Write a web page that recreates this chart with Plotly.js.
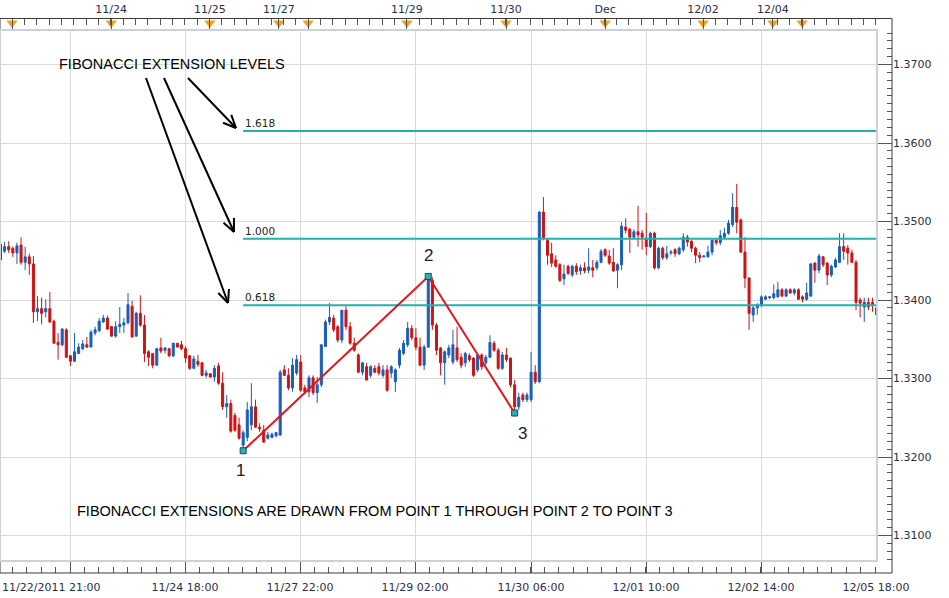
<!DOCTYPE html>
<html><head><meta charset="utf-8">
<script src="https://cdn.plot.ly/plotly-3.0.1.min.js"></script>
<style>html,body{margin:0;padding:0;background:#fff;}#chart{width:949px;height:598px;}</style>
</head><body><div id="chart"></div>
<script>
// ---- DATA (EUR/USD hourly) ----
const openP = [
1.3471,1.3462,1.3468,1.3466,1.3460,1.3470,1.3448,1.3455,1.3446,1.3385,
1.3389,1.3385,1.3389,1.3373,1.3346,1.3343,1.3362,1.3329,1.3322,1.3332,
1.3338,1.3343,1.3340,1.3358,1.3361,1.3372,1.3377,1.3366,1.3354,1.3366,
1.3368,1.3371,1.3392,1.3354,1.3383,1.3368,1.3334,1.3332,1.3317,1.3339,
1.3336,1.3338,1.3329,1.3345,1.3343,1.3338,1.3329,1.3313,1.3322,1.3320,
1.3304,1.3306,1.3302,1.3316,1.3294,1.3264,1.3268,1.3253,1.3241,1.3215,
1.3225,1.3241,1.3264,1.3238,1.3234,1.3224,1.3225,1.3227,1.3228,1.3311,
1.3304,1.3288,1.3307,1.3321,1.3288,1.3283,1.3301,1.3282,1.3292,1.3341,
1.3372,1.3377,1.3366,1.3349,1.3387,1.3366,1.3345,1.3330,1.3308,1.3315,
1.3304,1.3313,1.3315,1.3304,1.3311,1.3307,1.3296,1.3317,1.3332,1.3343,
1.3364,1.3352,1.3340,1.3317,1.3340,1.3425,1.3368,1.3339,1.3320,1.3330,
1.3321,1.3339,1.3327,1.3320,1.3329,1.3326,1.3311,1.3330,1.3320,1.3327,
1.3345,1.3336,1.3313,1.3330,1.3326,1.3292,1.3264,1.3279,1.3273,1.3273,
1.3308,1.3296,1.3512,1.3476,1.3459,1.3451,1.3445,1.3427,1.3443,1.3432,
1.3443,1.3437,1.3441,1.3438,1.3441,1.3441,1.3448,1.3464,1.3456,1.3448,
1.3438,1.3445,1.3493,1.3490,1.3480,1.3487,1.3485,1.3479,1.3468,1.3485,
1.3441,1.3466,1.3454,1.3460,1.3464,1.3459,1.3464,1.3480,1.3475,1.3466,
1.3457,1.3455,1.3455,1.3461,1.3476,1.3473,1.3480,1.3485,1.3496,1.3518,
1.3502,1.3461,1.3428,1.3381,1.3390,1.3394,1.3401,1.3403,1.3403,1.3404,
1.3413,1.3405,1.3413,1.3409,1.3413,1.3404,1.3401,1.3405,1.3447,1.3438,
1.3455,1.3447,1.3432,1.3442,1.3448,1.3468,1.3466,1.3460,1.3448,1.3400,
1.3391,1.3397,1.3397,1.3390];
const highP = [
1.3473,1.3474,1.3475,1.3468,1.3473,1.3480,1.3468,1.3459,1.3456,1.3405,
1.3403,1.3401,1.3410,1.3375,1.3358,1.3364,1.3364,1.3330,1.3358,1.3345,
1.3349,1.3353,1.3362,1.3366,1.3377,1.3381,1.3380,1.3367,1.3373,1.3391,
1.3377,1.3409,1.3399,1.3385,1.3406,1.3381,1.3336,1.3332,1.3339,1.3352,
1.3340,1.3339,1.3345,1.3345,1.3348,1.3341,1.3330,1.3329,1.3330,1.3321,
1.3311,1.3307,1.3317,1.3320,1.3308,1.3279,1.3273,1.3256,1.3250,1.3234,
1.3270,1.3294,1.3273,1.3243,1.3241,1.3232,1.3231,1.3232,1.3311,1.3317,
1.3313,1.3326,1.3330,1.3330,1.3292,1.3304,1.3304,1.3302,1.3343,1.3375,
1.3396,1.3381,1.3368,1.3387,1.3392,1.3372,1.3352,1.3332,1.3321,1.3320,
1.3317,1.3317,1.3320,1.3317,1.3317,1.3317,1.3313,1.3339,1.3349,1.3372,
1.3368,1.3364,1.3352,1.3343,1.3430,1.3429,1.3371,1.3340,1.3336,1.3343,
1.3362,1.3366,1.3332,1.3334,1.3332,1.3327,1.3332,1.3332,1.3330,1.3355,
1.3348,1.3339,1.3334,1.3339,1.3327,1.3298,1.3282,1.3282,1.3282,1.3334,
1.3317,1.3513,1.3531,1.3479,1.3473,1.3457,1.3447,1.3445,1.3445,1.3445,
1.3447,1.3445,1.3448,1.3466,1.3451,1.3451,1.3465,1.3466,1.3464,1.3466,
1.3447,1.3499,1.3504,1.3492,1.3490,1.3520,1.3489,1.3511,1.3487,1.3487,
1.3468,1.3468,1.3469,1.3464,1.3466,1.3468,1.3485,1.3483,1.3476,1.3468,
1.3461,1.3457,1.3469,1.3479,1.3479,1.3489,1.3492,1.3502,1.3536,1.3548,
1.3504,1.3480,1.3429,1.3392,1.3396,1.3406,1.3406,1.3405,1.3420,1.3423,
1.3415,1.3415,1.3415,1.3415,1.3415,1.3406,1.3422,1.3447,1.3448,1.3459,
1.3456,1.3448,1.3445,1.3454,1.3485,1.3485,1.3470,1.3464,1.3451,1.3403,
1.3403,1.3403,1.3403,1.3392];
const lowP = [
1.3450,1.3460,1.3460,1.3455,1.3446,1.3445,1.3438,1.3432,1.3371,1.3373,
1.3369,1.3378,1.3371,1.3344,1.3324,1.3341,1.3326,1.3316,1.3321,1.3331,
1.3336,1.3339,1.3340,1.3355,1.3359,1.3371,1.3362,1.3353,1.3352,1.3358,
1.3358,1.3369,1.3352,1.3353,1.3366,1.3321,1.3316,1.3313,1.3316,1.3332,
1.3332,1.3327,1.3327,1.3340,1.3336,1.3320,1.3311,1.3312,1.3315,1.3303,
1.3301,1.3301,1.3296,1.3292,1.3260,1.3250,1.3231,1.3232,1.3222,1.3208,
1.3220,1.3234,1.3237,1.3232,1.3218,1.3222,1.3224,1.3225,1.3227,1.3303,
1.3285,1.3283,1.3304,1.3283,1.3280,1.3276,1.3279,1.3269,1.3289,1.3340,
1.3368,1.3359,1.3346,1.3345,1.3362,1.3343,1.3334,1.3307,1.3304,1.3298,
1.3301,1.3307,1.3304,1.3301,1.3283,1.3301,1.3283,1.3313,1.3330,1.3340,
1.3349,1.3336,1.3316,1.3311,1.3339,1.3362,1.3330,1.3304,1.3292,1.3326,
1.3318,1.3321,1.3313,1.3315,1.3321,1.3302,1.3308,1.3311,1.3317,1.3326,
1.3334,1.3311,1.3311,1.3321,1.3289,1.3256,1.3260,1.3270,1.3270,1.3270,
1.3293,1.3294,1.3476,1.3445,1.3442,1.3441,1.3423,1.3419,1.3432,1.3429,
1.3432,1.3432,1.3434,1.3434,1.3429,1.3438,1.3447,1.3455,1.3445,1.3436,
1.3415,1.3438,1.3485,1.3460,1.3479,1.3468,1.3464,1.3457,1.3466,1.3439,
1.3439,1.3451,1.3451,1.3457,1.3455,1.3457,1.3461,1.3468,1.3461,1.3447,
1.3448,1.3454,1.3454,1.3457,1.3470,1.3470,1.3479,1.3483,1.3493,1.3485,
1.3460,1.3415,1.3362,1.3372,1.3381,1.3391,1.3400,1.3401,1.3401,1.3403,
1.3404,1.3404,1.3408,1.3406,1.3400,1.3397,1.3399,1.3404,1.3422,1.3434,
1.3442,1.3419,1.3429,1.3441,1.3447,1.3451,1.3445,1.3447,1.3387,1.3378,
1.3372,1.3387,1.3385,1.3380];
const closeP = [
1.3451,1.3468,1.3464,1.3460,1.3469,1.3448,1.3455,1.3446,1.3385,1.3389,
1.3383,1.3389,1.3372,1.3345,1.3343,1.3363,1.3327,1.3322,1.3334,1.3340,
1.3344,1.3340,1.3359,1.3362,1.3373,1.3377,1.3363,1.3354,1.3366,1.3369,
1.3371,1.3394,1.3353,1.3383,1.3368,1.3332,1.3327,1.3317,1.3338,1.3335,
1.3339,1.3329,1.3345,1.3340,1.3338,1.3326,1.3313,1.3325,1.3318,1.3304,
1.3307,1.3302,1.3313,1.3294,1.3264,1.3268,1.3233,1.3234,1.3224,1.3231,
1.3260,1.3264,1.3238,1.3236,1.3219,1.3228,1.3229,1.3231,1.3308,1.3304,
1.3288,1.3317,1.3324,1.3285,1.3283,1.3301,1.3282,1.3292,1.3343,1.3372,
1.3378,1.3362,1.3349,1.3387,1.3366,1.3345,1.3336,1.3308,1.3320,1.3298,
1.3315,1.3308,1.3307,1.3311,1.3285,1.3315,1.3311,1.3336,1.3345,1.3364,
1.3352,1.3340,1.3317,1.3340,1.3428,1.3368,1.3336,1.3320,1.3334,1.3339,
1.3343,1.3324,1.3317,1.3332,1.3324,1.3304,1.3330,1.3315,1.3327,1.3346,
1.3336,1.3313,1.3330,1.3324,1.3292,1.3264,1.3276,1.3273,1.3279,1.3308,
1.3296,1.3512,1.3479,1.3457,1.3447,1.3443,1.3425,1.3433,1.3434,1.3443,
1.3436,1.3441,1.3437,1.3442,1.3438,1.3448,1.3462,1.3457,1.3447,1.3437,
1.3445,1.3494,1.3489,1.3480,1.3487,1.3483,1.3480,1.3468,1.3485,1.3441,
1.3466,1.3454,1.3459,1.3461,1.3459,1.3466,1.3480,1.3474,1.3466,1.3457,
1.3454,1.3456,1.3461,1.3476,1.3473,1.3482,1.3485,1.3498,1.3518,1.3499,
1.3461,1.3428,1.3383,1.3390,1.3394,1.3404,1.3404,1.3404,1.3408,1.3413,
1.3405,1.3413,1.3409,1.3413,1.3401,1.3401,1.3409,1.3446,1.3438,1.3456,
1.3445,1.3432,1.3443,1.3451,1.3468,1.3462,1.3460,1.3448,1.3397,1.3396,
1.3397,1.3391,1.3394,1.3381];

// Fibonacci pattern: bar index of point 1 (low), point 2 (high), point 3 (low)
const pointIdx = [59, 104, 125];
const pointNames = ['1', '2', '3'];
const fibRatios = [0.618, 1.000, 1.618];
const fibLabels = ['0.618', '1.000', '1.618'];

// bottom axis (bar index positions of labelled gridlines)
const bottomTickPos = [16.9, 44.86, 72.82, 100.78, 128.98, 156.94, 184.9, 212.86];
const bottomTickText = ['', '11/24 18:00', '11/27 22:00', '11/29 02:00', '11/30 06:00', '12/01 10:00', '12/02 14:00', '12/05 18:00'];
const firstBarLabel = '11/22/2011 21:00';
// top axis day markers
const topTickPos = [2.8, 26.9, 50.9, 67.7, 74.8, 98.8, 122.9, 147.0, 170.8, 187.8, 194.9];
const topTickText = ['', '11/24', '11/25', '11/27', '', '11/29', '11/30', 'Dec', '12/02', '12/04', ''];

// ---- STYLE / LAYOUT ----
const W = 949, H = 598;
const BLUE = '#1a5eb8', RED = '#cc1414', TEAL = '#22b2ae', ZIG = '#e8141a', ORANGE = '#f5a21e';
const xRange = [-0.12, 213.1];
const yRange = [1.306752, 1.374395];
const px = v => v / W, py = v => 1 - v / H;

const xIdx = openP.map((_, i) => i);
const p1 = lowP[pointIdx[0]], p2 = highP[pointIdx[1]], p3 = lowP[pointIdx[2]];
const pointVals = [p1, p2, p3];
const levels = fibRatios.map(r => p3 + r * (p2 - p1));

const traces = [];
traces.push({
  type: 'candlestick', x: xIdx, open: openP, high: highP, low: lowP, close: closeP,
  xaxis: 'x', yaxis: 'y',
  increasing: {line: {color: BLUE, width: 1}, fillcolor: BLUE},
  decreasing: {line: {color: RED, width: 1}, fillcolor: RED},
  whiskerwidth: 0, hoverinfo: 'skip', showlegend: false
});
levels.forEach(l => traces.push({
  type: 'scatter', mode: 'lines', x: [pointIdx[0], xRange[1]], y: [l, l],
  line: {color: TEAL, width: 2}, hoverinfo: 'skip', showlegend: false
}));
traces.push({
  type: 'scatter', mode: 'lines+markers', x: pointIdx, y: pointVals,
  line: {color: ZIG, width: 2},
  marker: {symbol: 'square', size: 6, color: '#2aaeb8', line: {color: '#1c4a5a', width: 1}},
  hoverinfo: 'skip', showlegend: false
});
traces.push({
  type: 'scatter', mode: 'markers', x: topTickPos, y: topTickPos.map(() => 0.6),
  xaxis: 'x2', yaxis: 'y2', cliponaxis: false,
  marker: {symbol: 'triangle-down', size: 10, color: ORANGE, line: {width: 0}},
  hoverinfo: 'skip', showlegend: false
});

const shapes = [];
// outer frame (axes)
shapes.push({type: 'rect', xref: 'paper', yref: 'paper', x0: 0, x1: px(892), y0: py(573), y1: py(18.5),
  line: {color: '#3c3c3c', width: 1}, fillcolor: 'rgba(0,0,0,0)'});
// plot area border
shapes.push({type: 'rect', xref: 'paper', yref: 'paper', x0: 0, x1: px(877), y0: py(561), y1: py(30),
  line: {color: '#ccd2d9', width: 2}, fillcolor: 'rgba(0,0,0,0)'});
// arrows (pixel geometry of the callout)
const arrows = [[188, 78, 236, 128], [164, 78, 234, 232], [146, 78, 228, 303]];
arrows.forEach(a => {
  const [x0, y0, x1, y1] = a;
  shapes.push({type: 'line', xref: 'paper', yref: 'paper', x0: px(x0), y0: py(y0), x1: px(x1), y1: py(y1), line: {color: '#000', width: 2}});
  const th = Math.atan2(y1 - y0, x1 - x0), L = 14, ph = 0.42;
  [th + ph, th - ph].forEach(t => {
    shapes.push({type: 'line', xref: 'paper', yref: 'paper', x0: px(x1), y0: py(y1),
      x1: px(x1 - L * Math.cos(t)), y1: py(y1 - L * Math.sin(t)), line: {color: '#000', width: 2}});
  });
});

const annotations = [];
annotations.push({xref: 'paper', yref: 'paper', x: 0, y: py(587), xanchor: 'left', yanchor: 'middle',
  text: firstBarLabel, showarrow: false, font: {family: 'DejaVu Sans', size: 11, color: '#2d2d4a'}});
annotations.push({xref: 'paper', yref: 'paper', x: px(57), y: py(64), xanchor: 'left', yanchor: 'middle',
  text: 'FIBONACCI EXTENSION LEVELS', showarrow: false, font: {family: 'Liberation Sans', size: 14.5, color: '#000'}});
annotations.push({xref: 'paper', yref: 'paper', x: px(75), y: py(511), xanchor: 'left', yanchor: 'middle',
  text: 'FIBONACCI EXTENSIONS ARE DRAWN FROM POINT 1 THROUGH POINT 2 TO POINT 3', showarrow: false,
  font: {family: 'Liberation Sans', size: 14.5, color: '#000'}});
levels.forEach((l, i) => annotations.push({x: pointIdx[0], y: l, xref: 'x', yref: 'y', xanchor: 'left', yanchor: 'bottom',
  yshift: 0, text: fibLabels[i], showarrow: false, font: {family: 'DejaVu Sans', size: 10.5, color: '#222'}}));
const numShift = [[-3, -20], [0, 21], [8, -20]];
pointIdx.forEach((xi, i) => annotations.push({x: xi, y: pointVals[i], xref: 'x', yref: 'y', xanchor: 'center', yanchor: 'middle',
  xshift: numShift[i][0], yshift: numShift[i][1], text: pointNames[i], showarrow: false,
  font: {family: 'Liberation Sans', size: 17, color: '#222'}}));

const axFont = {family: 'DejaVu Sans', size: 11, color: '#2d2d4a'};
const layout = {
  width: W, height: H, margin: {l: 0, r: 0, t: 0, b: 0, pad: 0},
  paper_bgcolor: '#fff', plot_bgcolor: '#fff', showlegend: false, font: axFont,
  xaxis: {domain: [0, px(877)], range: xRange, anchor: 'free', position: py(573), side: 'bottom',
    showline: false, zeroline: false, showgrid: true, gridcolor: '#dadada', gridwidth: 1,
    tickmode: 'array', tickvals: bottomTickPos, ticktext: bottomTickText, tickfont: axFont,
    ticks: 'inside', ticklen: 12, tickcolor: '#555', tickwidth: 1, ticklabelstandoff: 6,
    minor: {tick0: bottomTickPos[0], dtick: (bottomTickPos[1] - bottomTickPos[0]) / 8, ticks: 'inside', ticklen: 6, tickcolor: '#555', showgrid: false},
    rangeslider: {visible: false}, fixedrange: true},
  yaxis: {domain: [py(561), py(30)], range: yRange, anchor: 'free', position: px(892), side: 'right',
    showline: false, zeroline: false, showgrid: true, gridcolor: '#dadada', gridwidth: 1,
    tick0: 1.30, dtick: 0.01, tickformat: '.4f', tickfont: axFont,
    ticks: 'inside', ticklen: 14, tickcolor: '#555', tickwidth: 1,
    minor: {tick0: 1.30, dtick: 0.001, ticks: 'inside', ticklen: 5, tickcolor: '#555', showgrid: false},
    fixedrange: true},
  xaxis2: {domain: [0, px(877)], range: xRange, anchor: 'y2', side: 'top',
    showline: false, zeroline: false, showgrid: false,
    tickmode: 'array', tickvals: topTickPos, ticktext: topTickText, tickfont: axFont,
    ticks: 'inside', ticklen: 12, tickcolor: '#555', tickwidth: 1, ticklabelstandoff: 2,
    minor: {tick0: topTickPos[0], dtick: 3, ticks: 'inside', ticklen: 6, tickcolor: '#555', showgrid: false},
    fixedrange: true},
  yaxis2: {domain: [py(30), py(18.5)], range: [0, 1], anchor: 'x2', visible: false, fixedrange: true},
  shapes: shapes, annotations: annotations
};
Plotly.newPlot('chart', traces, layout, {staticPlot: true, displayModeBar: false});
</script>
</body></html>
